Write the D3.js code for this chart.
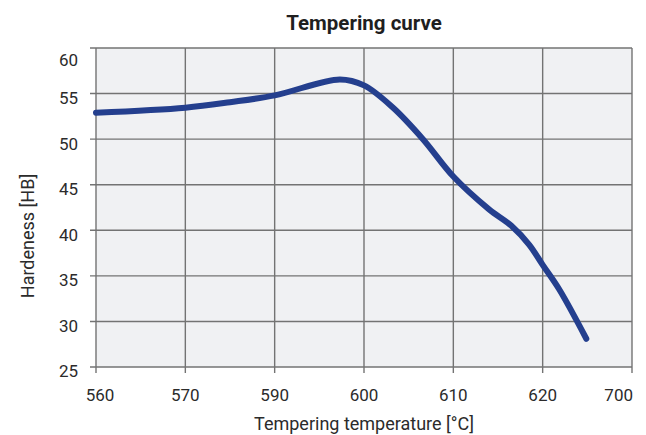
<!DOCTYPE html>
<html>
<head>
<meta charset="utf-8">
<script src="https://cdn.jsdelivr.net/npm/d3@7"></script>
<style>
    body { margin: 0; background: #fff; }
    #tempering-chart { width: 646px; height: 435px; }
    text { font-family: Roboto, "Open Sans", sans-serif; fill: #2b2b2b; }
</style>
</head>
<body>
<div id="tempering-chart"></div>
<script>

// axis labels as printed (x axis is not evenly scaled, each label gets one equal step)
const tempTicks = [560, 570, 590, 600, 610, 620, 700];
const hbTicks = [25, 30, 35, 40, 45, 50, 55, 60];

// curve, x in axis units
const temps =    [560,  570,   580,   590,  597.3, 600,  603.2, 606.6, 610,  614,  616.5, 618.5, 620,  634.9, 659.1];
const hardness = [52.9, 53.45, 54.05, 54.8, 56.55, 55.9, 53.5,  50.0,  45.9, 42.3, 40.5,  38.4,  36.2, 33.5,  28.1];

class TemperingCurveVis {

    constructor(parentElement) {
        this.parentElement = parentElement;
        this.data = temps.map((t, i) => ({temp: t, hb: hardness[i]}));
        this.initVis();
    }

    initVis() {
        let vis = this;

        vis.margin = {top: 48, right: 14, bottom: 68, left: 96};
        vis.width = 646 - vis.margin.left - vis.margin.right;
        vis.height = 435 - vis.margin.top - vis.margin.bottom;

        vis.svg = d3.select("#" + vis.parentElement)
            .append("svg")
            .attr("width", 646)
            .attr("height", 435);

        vis.g = vis.svg.append("g")
            .attr("transform", `translate(${vis.margin.left},${vis.margin.top})`);

        let step = vis.width / (tempTicks.length - 1);
        vis.x = d3.scaleLinear()
            .domain(tempTicks)
            .range(tempTicks.map((d, i) => i * step));

        vis.y = d3.scaleLinear()
            .domain([25, 60])
            .range([vis.height, 0]);

        vis.updateVis();
    }

    updateVis() {
        let vis = this;

        vis.g.append("rect")
            .attr("width", vis.width)
            .attr("height", vis.height)
            .attr("fill", "#f0f1f3");

        // horizontal grid, sticking out left as ticks
        vis.g.selectAll(".hgrid")
            .data(hbTicks)
            .enter()
            .append("line")
            .attr("class", "hgrid")
            .attr("x1", -6)
            .attr("x2", vis.width)
            .attr("y1", d => vis.y(d))
            .attr("y2", d => vis.y(d))
            .attr("stroke", "#737373")
            .attr("stroke-width", 1.4);

        // vertical grid, sticking out below as ticks
        vis.g.selectAll(".vgrid")
            .data(tempTicks)
            .enter()
            .append("line")
            .attr("class", "vgrid")
            .attr("x1", d => vis.x(d))
            .attr("x2", d => vis.x(d))
            .attr("y1", 0)
            .attr("y2", vis.height + 6)
            .attr("stroke", "#737373")
            .attr("stroke-width", 1.4);

        vis.g.selectAll(".ylab")
            .data(hbTicks)
            .enter()
            .append("text")
            .attr("class", "ylab")
            .attr("x", -18)
            .attr("y", d => Math.max(vis.y(d) + 6, 14))
            .attr("dominant-baseline", "middle")
            .style("text-anchor", "end")
            .style("font-size", "17px")
            .text(d => d);

        vis.g.selectAll(".xlab")
            .data(tempTicks)
            .enter()
            .append("text")
            .attr("class", "xlab")
            .attr("x", (d, i) => i === tempTicks.length - 1 ? vis.x(d) + 1 : vis.x(d) + (i === 0 ? 4 : 0))
            .attr("y", vis.height + 34)
            .style("text-anchor", (d, i) => i === tempTicks.length - 1 ? "end" : "middle")
            .style("font-size", "17px")
            .text(d => d);

        let line = d3.line()
            .x(d => vis.x(d.temp))
            .y(d => vis.y(d.hb))
            .curve(d3.curveCatmullRom.alpha(0.5));

        vis.g.append("path")
            .datum(vis.data)
            .attr("d", line)
            .attr("fill", "none")
            .attr("stroke", "#243f8e")
            .attr("stroke-width", 6)
            .attr("stroke-linecap", "round")
            .attr("stroke-linejoin", "round");

        vis.svg.append("text")
            .attr("x", vis.margin.left + vis.width / 2)
            .attr("y", 30)
            .style("text-anchor", "middle")
            .style("font-size", "20.5px")
            .style("font-weight", "bold")
            .style("fill", "#1f1f1f")
            .text("Tempering curve");

        vis.svg.append("text")
            .attr("x", vis.margin.left + vis.width / 2)
            .attr("y", 430)
            .style("text-anchor", "middle")
            .style("font-size", "18px")
            .text("Tempering temperature [°C]");

        vis.svg.append("text")
            .attr("transform", "translate(34,236) rotate(-90)")
            .style("text-anchor", "middle")
            .style("font-size", "18px")
            .text("Hardeness [HB]");
    }
}

new TemperingCurveVis("tempering-chart");
</script>
</body>
</html>
